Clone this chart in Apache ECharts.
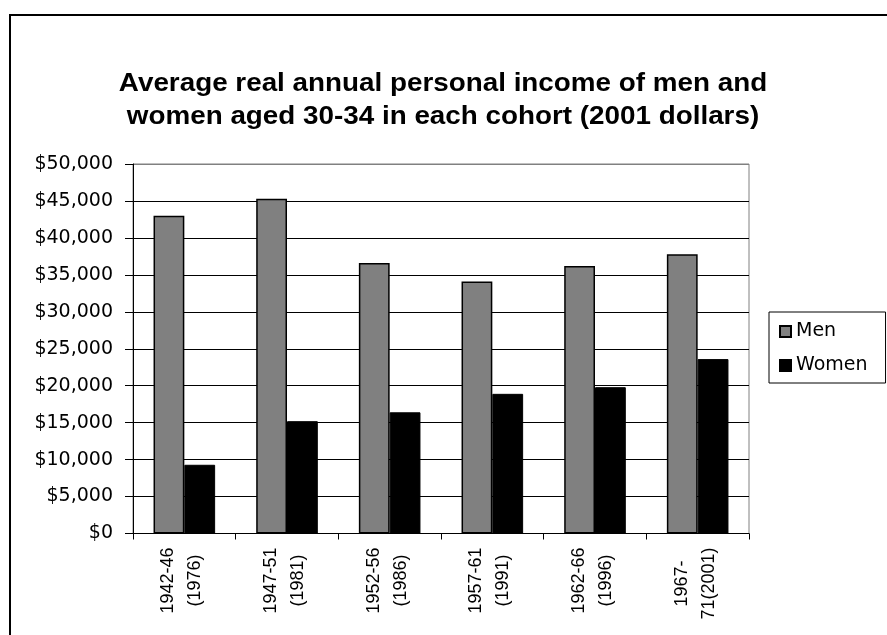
<!DOCTYPE html>
<html>
<head>
<meta charset="utf-8">
<script src="https://cdn.jsdelivr.net/npm/echarts@6/dist/echarts.min.js"></script>
<style>
  html, body { margin: 0; padding: 0; background: #fff; }
  #chart { width: 887px; height: 635px; }
</style>
</head>
<body>
<div id="chart"></div>
<script>
// Cohort labels (birth years, with the year they were aged 30-34)
const cohorts = ['1942-46\n(1976)', '1947-51\n(1981)', '1952-56\n(1986)',
                 '1957-61\n(1991)', '1962-66\n(1996)', '1967-\n71(2001)'];
// Average real annual personal income, 2001 dollars
const men   = [43000, 45300, 36600, 34100, 36200, 37800];
const women = [9300, 15200, 16400, 18900, 19800, 23600];
const seriesNames = ['Men', 'Women'];
const titleLines = ['Average real annual personal income of men and',
                    'women aged 30-34 in each cohort (2001 dollars)'];

const chart = echarts.init(document.getElementById('chart'), null, { renderer: 'canvas' });

const sans = 'Liberation Sans, Arial, sans-serif';
const wide = 'DejaVu Sans, sans-serif';

chart.setOption({
  animation: false,
  backgroundColor: '#fff',
  graphic: [
    {
      // chart-area frame
      type: 'rect',
      shape: { x: 10, y: 15, width: 1000, height: 1000 },
      style: { fill: 'none', stroke: '#000', lineWidth: 2 },
      silent: true
    },
    {
      type: 'text',
      x: 443,
      y: 100,
      scaleX: 1.07,
      style: {
        text: titleLines.join('\n'),
        x: 0, y: 0,
        align: 'center',
        verticalAlign: 'middle',
        font: 'bold 26px ' + sans,
        lineHeight: 33,
        fill: '#000'
      }
    }
  ],
  legend: {
    orient: 'vertical',
    left: 769,
    top: 312,
    padding: [10, 18, 8, 10],
    itemWidth: 11,
    itemHeight: 11,
    itemGap: 15,
    borderColor: '#000',
    borderWidth: 1,
    icon: 'rect',
    textStyle: { fontFamily: wide, fontSize: 19, color: '#000' },
    data: seriesNames
  },
  grid: {
    left: 133,
    top: 164,
    width: 616,
    height: 369.5,
    show: true,
    borderColor: '#808080',
    borderWidth: 1,
    containLabel: false
  },
  xAxis: {
    type: 'category',
    data: cohorts,
    axisLine: { lineStyle: { color: '#000', width: 1 } },
    axisTick: { show: true, length: 6, lineStyle: { color: '#000' } },
    axisLabel: {
      interval: 0,
      rotate: 90,
      margin: 14,
      color: '#000',
      fontFamily: sans,
      fontSize: 18,
      lineHeight: 27,
      padding: [0, 0, 5, 0],
      formatter: v => v.split('\n').map(s => '{c|' + s + '}').join('\n'),
      rich: {
        c: { align: 'center', fontFamily: sans, fontSize: 18, lineHeight: 27, color: '#000' }
      }
    },
    splitLine: { show: false }
  },
  yAxis: {
    type: 'value',
    min: 0,
    max: 50000,
    interval: 5000,
    axisLine: { show: true, lineStyle: { color: '#000', width: 1 } },
    axisTick: { show: true, length: 8, lineStyle: { color: '#000' } },
    axisLabel: {
      margin: 20,
      color: '#000',
      fontFamily: wide,
      fontSize: 19,
      formatter: v => '$' + v.toLocaleString('en-US')
    },
    splitLine: {
      show: true,
      lineStyle: {
        color: ['#000', '#000', '#000', '#000', '#000', '#000',
                '#000', '#000', '#000', '#000', '#808080'],
        width: 1
      }
    }
  },
  series: [
    {
      name: seriesNames[0],
      type: 'bar',
      data: men,
      barGap: '0%',
      barCategoryGap: '40%',
      itemStyle: { color: '#808080', borderColor: '#000', borderWidth: 1.5 }
    },
    {
      name: seriesNames[1],
      type: 'bar',
      data: women,
      barGap: '0%',
      barCategoryGap: '40%',
      itemStyle: { color: '#000', borderColor: '#000', borderWidth: 1 }
    }
  ]
});
</script>
</body>
</html>
